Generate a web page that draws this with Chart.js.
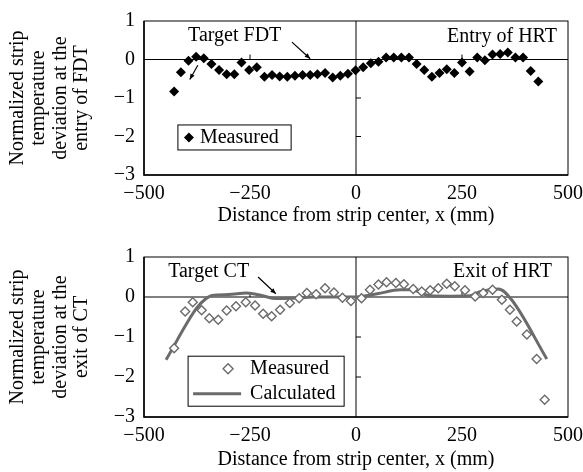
<!DOCTYPE html>
<html>
<head>
<meta charset="utf-8">
<script src="https://cdn.jsdelivr.net/npm/chart.js@4"></script>
<style>
  body { margin: 0; background: #fff; }
  #wrap { position: relative; width: 583px; height: 472px; }
  .box { position: absolute; left: 0; width: 583px; height: 236px; }
</style>
</head>
<body>
<div id="wrap">
  <div class="box" style="top:0"><canvas id="topChart"></canvas></div>
  <div class="box" style="top:236px"><canvas id="bottomChart"></canvas></div>
</div>
<script>
// tick values
const xTicks = [-500, -250, 0, 250, 500];
const yTicks = [1, 0, -1, -2, -3];

// entry of FDT, measured
const fdtX = [-429,-413,-395,-377,-359,-341,-323,-305,-287,-270,-252,-234,-216,-198,-180,-162,-144,-126,-108,-91,
  -73,-55,-37,-19,-1,17,35,53,71,89,107,125,143,161,179,197,214,232,250,268,286,304,322,340,358,376,394,412,430];
const fdtY = [-0.83,-0.33,-0.03,0.07,0.03,-0.12,-0.27,-0.38,-0.38,-0.08,-0.27,-0.2,-0.45,-0.4,-0.44,-0.45,-0.42,-0.4,-0.4,-0.38,
  -0.35,-0.47,-0.42,-0.37,-0.28,-0.2,-0.1,-0.06,0.05,0.05,0.05,0.05,-0.12,-0.27,-0.45,-0.35,-0.25,-0.35,-0.08,-0.31,
  0.05,-0.02,0.13,0.14,0.18,0.05,0.05,-0.3,-0.57];

// exit of CT, measured
const ctX = [-429,-403,-385,-364,-346,-325,-305,-283,-260,-238,-219,-199,-179,-156,-134,-116,-94,-73,-52,-32,
  -12,13,33,53,72,94,113,135,155,175,194,214,233,257,281,300,322,344,363,379,403,426,445];
const ctY = [-1.28,-0.36,-0.13,-0.33,-0.53,-0.57,-0.34,-0.23,-0.13,-0.21,-0.42,-0.48,-0.32,-0.15,-0.03,0.1,0.07,0.22,0.11,-0.02,
  -0.1,-0.03,0.18,0.31,0.37,0.35,0.32,0.2,0.14,0.17,0.22,0.33,0.27,0.17,0.01,0.1,0.18,-0.07,-0.32,-0.61,-0.94,-1.55,-2.57];

// exit of CT, calculated
const calcX = [-448,-376,-355,-340,-300,-258,-220,-190,-150,-100,-50,0,50,104,130,175,220,269,292,336,367,450];
const calcY = [-1.57,-0.28,-0.05,0.04,0.06,0.1,0.03,-0.04,-0.03,0,0,0,0.08,0.18,0.18,0.03,0.02,0.03,0.13,0.2,-0.07,-1.55];

const FONT = 'Liberation Serif';
const GREY = '#6b6b6b';
const pts = (xs, ys) => xs.map((x, i) => ({ x: x, y: ys[i] }));
const minus = v => String(v).replace('-', '\u2212');

function arrow(ctx, x1, y1, x2, y2) {
  const a = Math.atan2(y2 - y1, x2 - x1);
  ctx.beginPath();
  ctx.moveTo(x1, y1); ctx.lineTo(x2, y2);
  ctx.stroke();
  ctx.beginPath();
  ctx.moveTo(x2, y2);
  ctx.lineTo(x2 - 6 * Math.cos(a - 0.4), y2 - 6 * Math.sin(a - 0.4));
  ctx.lineTo(x2 - 6 * Math.cos(a + 0.4), y2 - 6 * Math.sin(a + 0.4));
  ctx.closePath();
  ctx.fill();
}

// frame, zero lines, notes and legend
const decor = {
  id: 'decor',
  beforeDatasetsDraw(chart) {
    const { ctx, chartArea: a, scales: { x, y } } = chart;
    ctx.save();
    ctx.strokeStyle = '#000';
    ctx.lineWidth = 1;
    ctx.strokeRect(a.left, a.top, a.right - a.left, a.bottom - a.top);
    ctx.lineWidth = 1.5;
    ctx.beginPath();
    ctx.moveTo(a.left, a.top); ctx.lineTo(a.left, a.bottom); ctx.lineTo(a.right, a.bottom);
    ctx.stroke();
    ctx.lineWidth = 1;
    const y0 = y.getPixelForValue(0), x0 = x.getPixelForValue(0);
    ctx.beginPath();
    ctx.moveTo(a.left, y0); ctx.lineTo(a.right, y0);
    ctx.moveTo(x0, a.top); ctx.lineTo(x0, a.bottom);
    [-250, 250].forEach(v => {
      const px = x.getPixelForValue(v);
      ctx.moveTo(px, y0); ctx.lineTo(px, y0 - 5);
    });
    [-1, -2].forEach(v => {
      const py = y.getPixelForValue(v);
      ctx.moveTo(x0, py); ctx.lineTo(x0 + 5, py);
    });
    ctx.stroke();
    ctx.restore();
  },
  afterDraw(chart) {
    const o = chart.options.plugins.decor;
    const { ctx, scales: { x, y } } = chart;
    const X = v => x.getPixelForValue(v), Y = v => y.getPixelForValue(v);
    ctx.save();
    ctx.font = '20px "' + FONT + '"';
    ctx.fillStyle = '#000';
    ctx.textBaseline = 'middle';
    ctx.textAlign = 'left';
    ctx.fillText(o.left[0], X(o.left[1]), Y(o.left[2]));
    ctx.textAlign = 'right';
    ctx.fillText(o.right[0], X(o.right[1]), Y(o.right[2]));
    ctx.strokeStyle = '#000';
    ctx.lineWidth = 1.2;
    o.arrows.forEach(r => arrow(ctx, X(r[0]), Y(r[1]), X(r[2]), Y(r[3])));

    // legend box
    const L = o.legend;
    const bx = X(L.box[0]), by = Y(L.box[1]), bw = X(L.box[2]) - bx, bh = Y(L.box[3]) - by;
    ctx.fillStyle = '#fff';
    ctx.fillRect(bx, by, bw, bh);
    ctx.strokeStyle = '#000';
    ctx.lineWidth = 1;
    ctx.strokeRect(bx, by, bw, bh);
    ctx.textAlign = 'left';
    L.rows.forEach((r, i) => {
      const cy = by + bh * (i + 0.5) / L.rows.length;
      const cx = bx + r.mark;
      if (r.type === 'fill') {
        ctx.fillStyle = '#000';
        ctx.beginPath();
        ctx.moveTo(cx, cy - 5); ctx.lineTo(cx + 5, cy); ctx.lineTo(cx, cy + 5); ctx.lineTo(cx - 5, cy);
        ctx.closePath(); ctx.fill();
      } else if (r.type === 'hollow') {
        ctx.strokeStyle = GREY; ctx.lineWidth = 1.4;
        ctx.beginPath();
        ctx.moveTo(cx, cy - 5); ctx.lineTo(cx + 5, cy); ctx.lineTo(cx, cy + 5); ctx.lineTo(cx - 5, cy);
        ctx.closePath(); ctx.stroke();
      } else {
        ctx.strokeStyle = GREY; ctx.lineWidth = 3;
        ctx.beginPath(); ctx.moveTo(cx - 24, cy); ctx.lineTo(cx + 24, cy); ctx.stroke();
      }
      ctx.fillStyle = '#000';
      ctx.fillText(r.label, bx + r.text, cy);
    });
    ctx.restore();
  }
};

function baseOptions(titleLines, pad, xAxisHeight, decorOpts) {
  return {
    responsive: true,
    maintainAspectRatio: false,
    animation: false,
    layout: { padding: pad },
    plugins: { legend: { display: false }, tooltip: { enabled: false }, decor: decorOpts },
    scales: {
      x: {
        type: 'linear', min: -500, max: 500,
        afterBuildTicks: s => { s.ticks = xTicks.map(v => ({ value: v })); },
        afterFit: s => { s.height = xAxisHeight; s.paddingLeft = 0; s.paddingRight = 0; },
        grid: { display: false, drawTicks: false },
        border: { display: false },
        ticks: { padding: 7, color: '#000', font: { family: FONT, size: 20 }, callback: v => minus(v), maxRotation: 0 },
        title: { display: true, text: 'Distance from strip center, x (mm)', color: '#000',
                 font: { family: FONT, size: 20 }, padding: { top: 0, bottom: 0 } }
      },
      y: {
        type: 'linear', min: -3, max: 1,
        afterBuildTicks: s => { s.ticks = yTicks.map(v => ({ value: v })); },
        afterFit: s => { s.width = 144; },
        grid: { display: false, drawTicks: false },
        border: { display: false },
        ticks: { padding: 9, color: '#000', font: { family: FONT, size: 20 }, callback: v => minus(v) },
        title: { display: true, text: titleLines, color: '#000',
                 font: { family: FONT, size: 20, lineHeight: 1.07 }, padding: { top: 7 } }
      }
    }
  };
}

new Chart(document.getElementById('topChart'), {
  type: 'scatter',
  data: {
    datasets: [{
      label: 'Measured',
      data: pts(fdtX, fdtY),
      pointStyle: 'rectRot',
      pointRadius: 5,
      backgroundColor: '#000',
      borderColor: '#000',
      borderWidth: 0
    }]
  },
  plugins: [decor],
  options: baseOptions(['Normalized strip', 'temperature', 'deviation at the', 'entry of FDT'],
    { top: 15, right: 15, left: 0, bottom: 8 }, 53, {
    left: ['Target FDT', -396, 0.62],
    right: ['Entry of HRT', 474, 0.6],
    arrows: [[-151, 0.45, -108, 0.02], [-373, -0.15, -392, -0.52]],
    legend: { box: [-420, -1.7, -153, -2.35], rows: [{ type: 'fill', mark: 11, text: 22, label: 'Measured' }] }
  })
});

new Chart(document.getElementById('bottomChart'), {
  type: 'scatter',
  data: {
    datasets: [{
      label: 'Measured',
      data: pts(ctX, ctY),
      pointStyle: 'rectRot',
      pointRadius: 4.5,
      backgroundColor: '#fff',
      borderColor: GREY,
      borderWidth: 1.4
    }, {
      label: 'Calculated',
      data: pts(calcX, calcY),
      showLine: true,
      pointRadius: 0,
      borderColor: GREY,
      borderWidth: 3,
      cubicInterpolationMode: 'monotone'
    }]
  },
  plugins: [decor],
  options: baseOptions(['Normalized strip', 'temperature', 'deviation at the', 'exit of CT'],
    { top: 21, right: 15, left: 0, bottom: 0 }, 55, {
    left: ['Target CT', -443, 0.63],
    right: ['Exit of HRT', 462, 0.63],
    arrows: [[-231, 0.5, -189, 0.08]],
    legend: { box: [-396, -1.48, -28, -2.73],
              rows: [{ type: 'hollow', mark: 40, text: 62, label: 'Measured' },
                     { type: 'line', mark: 29, text: 62, label: 'Calculated' }] }
  })
});
</script>
</body>
</html>
